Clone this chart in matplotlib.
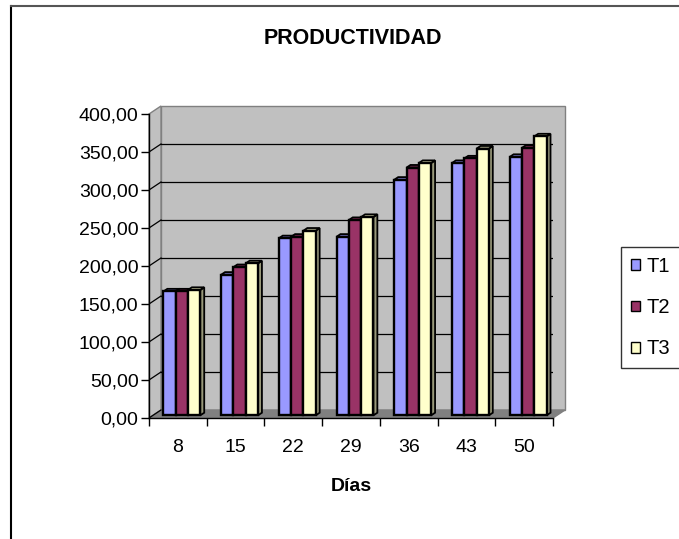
import numpy as np
import matplotlib
matplotlib.use("Agg")
import matplotlib.pyplot as plt
from matplotlib.patches import Polygon, Patch
from matplotlib.lines import Line2D
from matplotlib.transforms import IdentityTransform

plt.rcParams['font.family'] = ['Liberation Sans', 'DejaVu Sans']

# Data
dias = ["8", "15", "22", "29", "36", "43", "50"]
t1 = [163, 185, 233, 235, 310, 332, 340]
t2 = [163, 195, 235, 257, 326, 338, 352]
t3 = [165, 200, 243, 261, 332, 351, 367]
series_names = ["T1", "T2", "T3"]
y_ticks = [0, 50, 100, 150, 200, 250, 300, 350, 400]

face_colors = ["#9999FF", "#993366", "#FFFFCC"]
side_colors = ["#5c5c99", "#5c1f3d", "#99997a"]
top_colors = ["#7a7acc", "#7a2952", "#cccca3"]

W, H = 679, 539
fig = plt.figure(figsize=(W / 100, H / 100), dpi=100)

# front plane of the plot box (pixels)
x0, x1 = 149, 553
y0, y1 = 418, 114
ax = fig.add_axes([x0 / W, 1 - y0 / H, (x1 - x0) / W, (y0 - y1) / H])
ax.set_xlim(0, len(dias))
ax.set_ylim(0, 400)
ax.patch.set_visible(False)

DEPTH = np.array([12.0, 8.0])  # screen offset of the back wall, px


def proj(x, v, d):
    p = ax.transData.transform((x, v))
    return p + d * DEPTH


def poly(pts, **kw):
    p = Polygon(np.array(pts), closed=True, transform=IdentityTransform(),
                clip_on=False, **kw)
    ax.add_artist(p)
    return p


n = len(dias)
# walls and floor
poly([proj(0, 0, 1), proj(n, 0, 1), proj(n, 400, 1), proj(0, 400, 1)],
     facecolor="#c0c0c0", edgecolor="#808080", linewidth=1.0, zorder=1)
poly([proj(0, 0, 0), proj(0, 400, 0), proj(0, 400, 1), proj(0, 0, 1)],
     facecolor="#c0c0c0", edgecolor="#808080", linewidth=1.0, zorder=1)
poly([proj(0, 0, 0), proj(n, 0, 0), proj(n, 0, 1), proj(0, 0, 1)],
     facecolor="#808080", edgecolor="#808080", linewidth=1.0, zorder=1.1)

# gridlines on back wall and left wall
for v in y_ticks[1:-1]:
    a, b = proj(0, v, 1), proj(n, v, 1)
    ax.add_artist(Line2D([a[0], b[0]], [a[1], b[1]], color="black", lw=0.9,
                         transform=IdentityTransform(), zorder=1.2))
for v in y_ticks:
    a, b = proj(0, v, 0), proj(0, v, 1)
    ax.add_artist(Line2D([a[0], b[0]], [a[1], b[1]],
                         color="black" if v < 400 else "#808080", lw=0.9,
                         transform=IdentityTransform(), zorder=1.2))

# 3D bars
values = [t1, t2, t3]
bw = 0.213
d_front, d_back = 0.33, 0.66
z = 2
for i in range(n):
    for s in range(3):
        h = values[s][i]
        xl = i + 0.5 - 1.5 * bw + s * bw
        xr = xl + bw
        # side face
        poly([proj(xr, 0, d_front), proj(xr, 0, d_back),
              proj(xr, h, d_back), proj(xr, h, d_front)],
             facecolor=side_colors[s], edgecolor="black", linewidth=1.3, zorder=z)
        # top face
        poly([proj(xl, h, d_front), proj(xr, h, d_front),
              proj(xr, h, d_back), proj(xl, h, d_back)],
             facecolor=top_colors[s], edgecolor="black", linewidth=1.3, zorder=z)
        # front face
        poly([proj(xl, 0, d_front), proj(xr, 0, d_front),
              proj(xr, h, d_front), proj(xl, h, d_front)],
             facecolor=face_colors[s], edgecolor="black", linewidth=1.7, zorder=z + 0.01)
        z += 0.02

# axes lines and ticks
for side in ["top", "right"]:
    ax.spines[side].set_visible(False)
ax.spines["left"].set_linewidth(1.0)
ax.spines["bottom"].set_linewidth(1.0)
ax.spines["left"].set_zorder(5)
ax.spines["bottom"].set_zorder(5)

ax.set_yticks(y_ticks)
ax.set_yticklabels([f"{v:.2f}".replace(".", ",") for v in y_ticks])
ax.set_xticks(np.arange(n + 1))
ax.set_xticklabels([])
ax.set_xticks(np.arange(n) + 0.5, minor=True)
ax.set_xticklabels(dias, minor=True)
ax.tick_params(axis="y", length=6, width=1.0, labelsize=14, pad=1.5, direction="out")
ax.tick_params(axis="x", which="major", length=6, width=1.0, direction="out")
ax.tick_params(axis="x", which="minor", length=0, labelsize=14, pad=15)

ax.set_xlabel("Días", fontsize=14, fontweight="bold", labelpad=16)
fig.text(353 / W, 1 - 38 / H, "PRODUCTIVIDAD", fontsize=15.5, fontweight="bold",
         ha="center", va="center")

# legend
handles = [Patch(facecolor=c, edgecolor="black", linewidth=1.0) for c in face_colors]
leg = fig.legend(handles, series_names, loc="upper left",
                 bbox_to_anchor=(621 / W, 1 - 247 / H), fontsize=14.5,
                 frameon=True, fancybox=False, edgecolor="black",
                 handlelength=0.45, handleheight=0.45, handletextpad=0.3,
                 labelspacing=1.1, borderpad=0.5, borderaxespad=0)
leg.get_frame().set_linewidth(1.0)

# chart area border
fig.add_artist(Line2D([11 / W, 11 / W], [0, 1 - 6 / H], color="black", lw=1.5,
                      transform=fig.transFigure))
fig.add_artist(Line2D([11 / W, 1], [1 - 6 / H, 1 - 6 / H], color="#555555", lw=1.5,
                      transform=fig.transFigure))

fig.savefig("out.png", dpi=100)
